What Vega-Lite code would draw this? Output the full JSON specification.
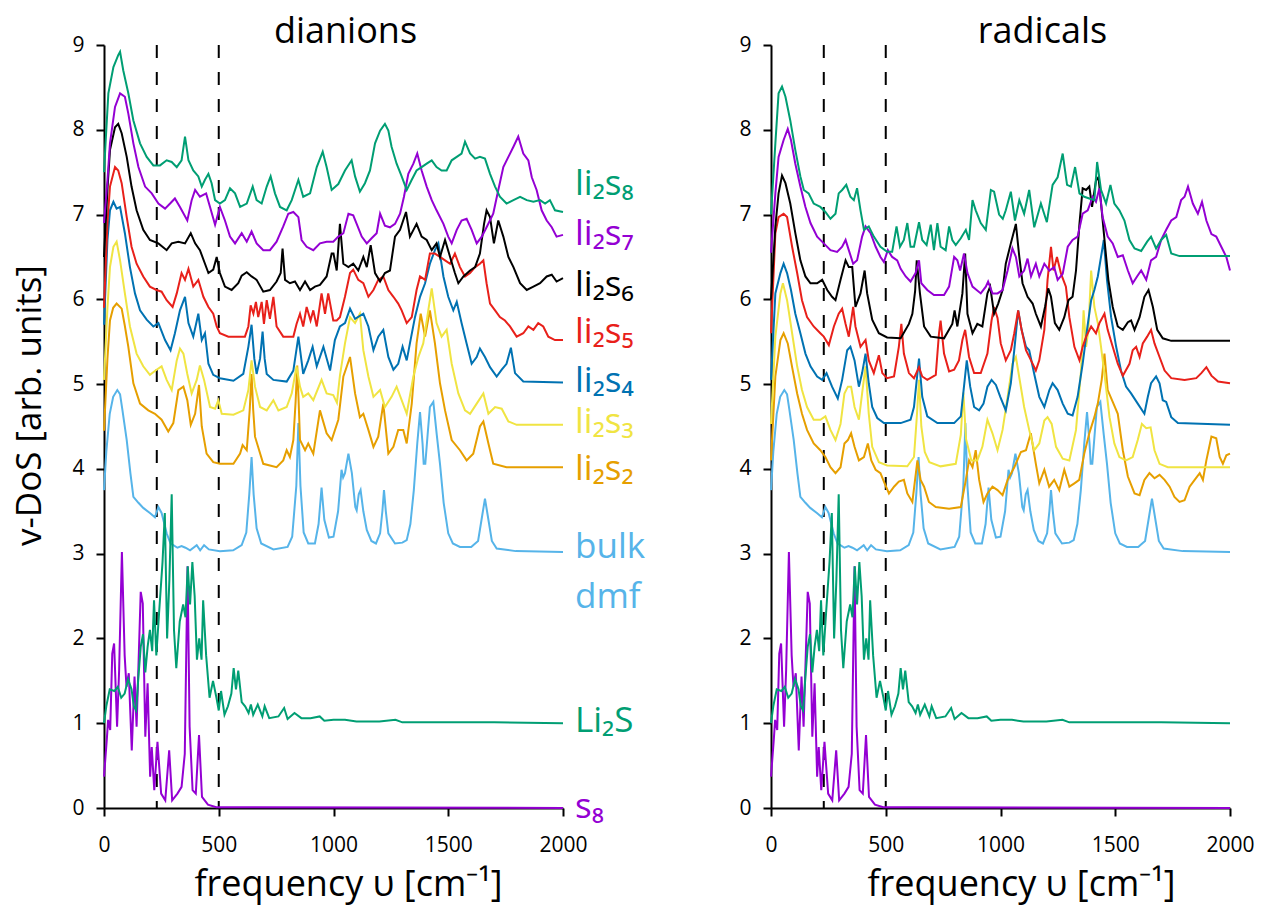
{
"$schema":"https://vega.github.io/schema/vega-lite/v6.json",
"padding":{"left":12,"top":14,"right":5,"bottom":5},
"config":{"font":"Open Sans","view":{"stroke":null}},
"bounds":"flush",
"spacing":208,
"datasets":{
"common":[
{"s":"bulk","x":0,"y":3.75},{"s":"bulk","x":10,"y":4.2},{"s":"bulk","x":25,"y":4.65},{"s":"bulk","x":40,"y":4.85},{"s":"bulk","x":58,"y":4.93},{"s":"bulk","x":70,"y":4.88},{"s":"bulk","x":80,"y":4.7},{"s":"bulk","x":99,"y":4.34},{"s":"bulk","x":115,"y":3.95},{"s":"bulk","x":128,"y":3.67},{"s":"bulk","x":150,"y":3.6},{"s":"bulk","x":171,"y":3.54},{"s":"bulk","x":200,"y":3.48},{"s":"bulk","x":222,"y":3.43},{"s":"bulk","x":237,"y":3.55},{"s":"bulk","x":251,"y":3.48},{"s":"bulk","x":273,"y":3.24},{"s":"bulk","x":290,"y":3.12},{"s":"bulk","x":302,"y":3.1},{"s":"bulk","x":320,"y":3.07},{"s":"bulk","x":338,"y":3.09},{"s":"bulk","x":355,"y":3.07},{"s":"bulk","x":375,"y":3.04},{"s":"bulk","x":404,"y":3.1},{"s":"bulk","x":419,"y":3.04},{"s":"bulk","x":436,"y":3.1},{"s":"bulk","x":457,"y":3.05},{"s":"bulk","x":505,"y":3.03},{"s":"bulk","x":563,"y":3.04},{"s":"bulk","x":600,"y":3.1},{"s":"bulk","x":620,"y":3.25},{"s":"bulk","x":633,"y":3.7},{"s":"bulk","x":643,"y":4.14},{"s":"bulk","x":652,"y":3.7},{"s":"bulk","x":665,"y":3.3},{"s":"bulk","x":685,"y":3.12},{"s":"bulk","x":738,"y":3.05},{"s":"bulk","x":800,"y":3.08},{"s":"bulk","x":820,"y":3.2},{"s":"bulk","x":838,"y":3.8},{"s":"bulk","x":847,"y":4.54},{"s":"bulk","x":856,"y":3.8},{"s":"bulk","x":870,"y":3.25},{"s":"bulk","x":890,"y":3.12},{"s":"bulk","x":919,"y":3.12},{"s":"bulk","x":935,"y":3.35},{"s":"bulk","x":948,"y":3.78},{"s":"bulk","x":960,"y":3.4},{"s":"bulk","x":980,"y":3.19},{"s":"bulk","x":1000,"y":3.2},{"s":"bulk","x":1020,"y":3.5},{"s":"bulk","x":1035,"y":3.99},{"s":"bulk","x":1042,"y":3.9},{"s":"bulk","x":1050,"y":3.95},{"s":"bulk","x":1065,"y":4.18},{"s":"bulk","x":1080,"y":3.95},{"s":"bulk","x":1095,"y":3.55},{"s":"bulk","x":1101,"y":3.51},{"s":"bulk","x":1110,"y":3.7},{"s":"bulk","x":1118,"y":3.75},{"s":"bulk","x":1130,"y":3.5},{"s":"bulk","x":1145,"y":3.28},{"s":"bulk","x":1165,"y":3.15},{"s":"bulk","x":1185,"y":3.12},{"s":"bulk","x":1203,"y":3.24},{"s":"bulk","x":1213,"y":3.5},{"s":"bulk","x":1220,"y":3.75},{"s":"bulk","x":1228,"y":3.5},{"s":"bulk","x":1239,"y":3.24},{"s":"bulk","x":1268,"y":3.12},{"s":"bulk","x":1300,"y":3.13},{"s":"bulk","x":1319,"y":3.16},{"s":"bulk","x":1335,"y":3.35},{"s":"bulk","x":1350,"y":3.75},{"s":"bulk","x":1365,"y":4.3},{"s":"bulk","x":1377,"y":4.67},{"s":"bulk","x":1388,"y":4.3},{"s":"bulk","x":1393,"y":4.06},{"s":"bulk","x":1400,"y":4.06},{"s":"bulk","x":1410,"y":4.4},{"s":"bulk","x":1420,"y":4.73},{"s":"bulk","x":1435,"y":4.79},{"s":"bulk","x":1450,"y":4.4},{"s":"bulk","x":1464,"y":4.06},{"s":"bulk","x":1480,"y":3.6},{"s":"bulk","x":1500,"y":3.24},{"s":"bulk","x":1520,"y":3.12},{"s":"bulk","x":1551,"y":3.08},{"s":"bulk","x":1600,"y":3.08},{"s":"bulk","x":1630,"y":3.15},{"s":"bulk","x":1648,"y":3.45},{"s":"bulk","x":1660,"y":3.65},{"s":"bulk","x":1672,"y":3.45},{"s":"bulk","x":1690,"y":3.15},{"s":"bulk","x":1711,"y":3.06},{"s":"bulk","x":1794,"y":3.03},{"s":"bulk","x":2000,"y":3.02},
{"s":"S8","x":0,"y":0.37},{"s":"S8","x":12,"y":0.8},{"s":"S8","x":18,"y":1.04},{"s":"S8","x":27,"y":0.92},{"s":"S8","x":36,"y":1.82},{"s":"S8","x":44,"y":1.94},{"s":"S8","x":57,"y":0.96},{"s":"S8","x":66,"y":1.63},{"s":"S8","x":78,"y":3.02},{"s":"S8","x":90,"y":1.8},{"s":"S8","x":98,"y":1.43},{"s":"S8","x":108,"y":1.59},{"s":"S8","x":121,"y":0.68},{"s":"S8","x":133,"y":1.55},{"s":"S8","x":142,"y":0.96},{"s":"S8","x":160,"y":2.55},{"s":"S8","x":169,"y":2.41},{"s":"S8","x":180,"y":0.84},{"s":"S8","x":190,"y":1.47},{"s":"S8","x":201,"y":0.37},{"s":"S8","x":208,"y":0.72},{"s":"S8","x":219,"y":0.21},{"s":"S8","x":233,"y":0.78},{"s":"S8","x":249,"y":0.17},{"s":"S8","x":267,"y":0.09},{"s":"S8","x":284,"y":0.68},{"s":"S8","x":297,"y":0.09},{"s":"S8","x":320,"y":0.17},{"s":"S8","x":338,"y":0.25},{"s":"S8","x":352,"y":0.64},{"s":"S8","x":364,"y":2.85},{"s":"S8","x":373,"y":0.96},{"s":"S8","x":386,"y":0.21},{"s":"S8","x":400,"y":0.17},{"s":"S8","x":414,"y":0.86},{"s":"S8","x":427,"y":0.13},{"s":"S8","x":453,"y":0.04},{"s":"S8","x":489,"y":0.01},{"s":"S8","x":600,"y":0.01},{"s":"S8","x":2000,"y":0},
{"s":"Li2S","x":0,"y":1.0},{"s":"Li2S","x":10,"y":1.2},{"s":"Li2S","x":25,"y":1.4},{"s":"Li2S","x":45,"y":1.38},{"s":"Li2S","x":60,"y":1.43},{"s":"Li2S","x":75,"y":1.3},{"s":"Li2S","x":90,"y":1.35},{"s":"Li2S","x":105,"y":1.52},{"s":"Li2S","x":120,"y":1.4},{"s":"Li2S","x":130,"y":1.2},{"s":"Li2S","x":140,"y":1.15},{"s":"Li2S","x":150,"y":1.55},{"s":"Li2S","x":160,"y":1.9},{"s":"Li2S","x":170,"y":2.05},{"s":"Li2S","x":180,"y":1.6},{"s":"Li2S","x":190,"y":1.9},{"s":"Li2S","x":200,"y":2.1},{"s":"Li2S","x":210,"y":1.85},{"s":"Li2S","x":218,"y":2.45},{"s":"Li2S","x":228,"y":1.8},{"s":"Li2S","x":240,"y":2.3},{"s":"Li2S","x":255,"y":2.9},{"s":"Li2S","x":265,"y":3.48},{"s":"Li2S","x":275,"y":2.0},{"s":"Li2S","x":285,"y":2.7},{"s":"Li2S","x":295,"y":3.7},{"s":"Li2S","x":305,"y":2.1},{"s":"Li2S","x":315,"y":1.65},{"s":"Li2S","x":330,"y":2.2},{"s":"Li2S","x":345,"y":2.4},{"s":"Li2S","x":355,"y":2.25},{"s":"Li2S","x":365,"y":2.85},{"s":"Li2S","x":375,"y":2.4},{"s":"Li2S","x":385,"y":2.9},{"s":"Li2S","x":395,"y":2.5},{"s":"Li2S","x":405,"y":1.75},{"s":"Li2S","x":415,"y":2.0},{"s":"Li2S","x":425,"y":1.75},{"s":"Li2S","x":432,"y":2.45},{"s":"Li2S","x":445,"y":1.8},{"s":"Li2S","x":460,"y":1.3},{"s":"Li2S","x":475,"y":1.5},{"s":"Li2S","x":490,"y":1.3},{"s":"Li2S","x":500,"y":1.15},{"s":"Li2S","x":510,"y":1.38},{"s":"Li2S","x":525,"y":1.1},{"s":"Li2S","x":540,"y":1.2},{"s":"Li2S","x":555,"y":1.35},{"s":"Li2S","x":565,"y":1.65},{"s":"Li2S","x":575,"y":1.4},{"s":"Li2S","x":585,"y":1.62},{"s":"Li2S","x":600,"y":1.25},{"s":"Li2S","x":615,"y":1.2},{"s":"Li2S","x":630,"y":1.12},{"s":"Li2S","x":640,"y":1.22},{"s":"Li2S","x":650,"y":1.1},{"s":"Li2S","x":670,"y":1.22},{"s":"Li2S","x":690,"y":1.08},{"s":"Li2S","x":700,"y":1.2},{"s":"Li2S","x":720,"y":1.06},{"s":"Li2S","x":760,"y":1.08},{"s":"Li2S","x":785,"y":1.18},{"s":"Li2S","x":800,"y":1.05},{"s":"Li2S","x":830,"y":1.12},{"s":"Li2S","x":860,"y":1.06},{"s":"Li2S","x":900,"y":1.06},{"s":"Li2S","x":940,"y":1.08},{"s":"Li2S","x":960,"y":1.03},{"s":"Li2S","x":1000,"y":1.04},{"s":"Li2S","x":1050,"y":1.04},{"s":"Li2S","x":1100,"y":1.02},{"s":"Li2S","x":1200,"y":1.02},{"s":"Li2S","x":1270,"y":1.04},{"s":"Li2S","x":1300,"y":1.01},{"s":"Li2S","x":1500,"y":1.01},{"s":"Li2S","x":1700,"y":1.01},{"s":"Li2S","x":2000,"y":1.0}
],
"dian":[
{"s":"li2s2","x":0,"y":4.45},{"s":"li2s2","x":15,"y":5.3},{"s":"li2s2","x":26,"y":5.75},{"s":"li2s2","x":40,"y":5.9},{"s":"li2s2","x":55,"y":5.95},{"s":"li2s2","x":77,"y":5.89},{"s":"li2s2","x":90,"y":5.7},{"s":"li2s2","x":106,"y":5.44},{"s":"li2s2","x":128,"y":5.01},{"s":"li2s2","x":157,"y":4.77},{"s":"li2s2","x":193,"y":4.69},{"s":"li2s2","x":222,"y":4.65},{"s":"li2s2","x":251,"y":4.58},{"s":"li2s2","x":280,"y":4.44},{"s":"li2s2","x":302,"y":4.54},{"s":"li2s2","x":324,"y":4.93},{"s":"li2s2","x":346,"y":4.97},{"s":"li2s2","x":363,"y":4.81},{"s":"li2s2","x":378,"y":4.52},{"s":"li2s2","x":397,"y":4.65},{"s":"li2s2","x":414,"y":4.99},{"s":"li2s2","x":426,"y":4.5},{"s":"li2s2","x":447,"y":4.18},{"s":"li2s2","x":476,"y":4.08},{"s":"li2s2","x":505,"y":4.06},{"s":"li2s2","x":564,"y":4.06},{"s":"li2s2","x":593,"y":4.18},{"s":"li2s2","x":604,"y":4.28},{"s":"li2s2","x":622,"y":4.22},{"s":"li2s2","x":635,"y":4.7},{"s":"li2s2","x":643,"y":5.12},{"s":"li2s2","x":650,"y":4.7},{"s":"li2s2","x":658,"y":4.38},{"s":"li2s2","x":694,"y":4.06},{"s":"li2s2","x":752,"y":4.02},{"s":"li2s2","x":781,"y":4.1},{"s":"li2s2","x":796,"y":4.22},{"s":"li2s2","x":810,"y":4.14},{"s":"li2s2","x":825,"y":4.34},{"s":"li2s2","x":835,"y":4.8},{"s":"li2s2","x":842,"y":5.22},{"s":"li2s2","x":848,"y":4.8},{"s":"li2s2","x":854,"y":4.34},{"s":"li2s2","x":876,"y":4.22},{"s":"li2s2","x":890,"y":4.3},{"s":"li2s2","x":912,"y":4.18},{"s":"li2s2","x":941,"y":4.69},{"s":"li2s2","x":970,"y":4.42},{"s":"li2s2","x":992,"y":4.34},{"s":"li2s2","x":1021,"y":4.58},{"s":"li2s2","x":1043,"y":5.09},{"s":"li2s2","x":1072,"y":5.32},{"s":"li2s2","x":1094,"y":4.89},{"s":"li2s2","x":1115,"y":4.61},{"s":"li2s2","x":1130,"y":4.65},{"s":"li2s2","x":1152,"y":4.46},{"s":"li2s2","x":1174,"y":4.26},{"s":"li2s2","x":1195,"y":4.38},{"s":"li2s2","x":1217,"y":4.77},{"s":"li2s2","x":1239,"y":4.18},{"s":"li2s2","x":1261,"y":4.26},{"s":"li2s2","x":1282,"y":4.46},{"s":"li2s2","x":1304,"y":4.46},{"s":"li2s2","x":1319,"y":4.3},{"s":"li2s2","x":1341,"y":4.77},{"s":"li2s2","x":1362,"y":5.48},{"s":"li2s2","x":1380,"y":5.83},{"s":"li2s2","x":1399,"y":5.56},{"s":"li2s2","x":1420,"y":5.87},{"s":"li2s2","x":1442,"y":5.48},{"s":"li2s2","x":1464,"y":5.01},{"s":"li2s2","x":1486,"y":4.69},{"s":"li2s2","x":1515,"y":4.34},{"s":"li2s2","x":1551,"y":4.22},{"s":"li2s2","x":1580,"y":4.1},{"s":"li2s2","x":1609,"y":4.18},{"s":"li2s2","x":1638,"y":4.5},{"s":"li2s2","x":1653,"y":4.56},{"s":"li2s2","x":1675,"y":4.3},{"s":"li2s2","x":1696,"y":4.06},{"s":"li2s2","x":1754,"y":4.02},{"s":"li2s2","x":2000,"y":4.02},
{"s":"li2s3","x":0,"y":5.05},{"s":"li2s3","x":15,"y":5.9},{"s":"li2s3","x":26,"y":6.38},{"s":"li2s3","x":41,"y":6.62},{"s":"li2s3","x":55,"y":6.68},{"s":"li2s3","x":70,"y":6.46},{"s":"li2s3","x":91,"y":6.07},{"s":"li2s3","x":113,"y":5.68},{"s":"li2s3","x":142,"y":5.36},{"s":"li2s3","x":171,"y":5.21},{"s":"li2s3","x":200,"y":5.11},{"s":"li2s3","x":229,"y":5.17},{"s":"li2s3","x":251,"y":5.21},{"s":"li2s3","x":273,"y":5.05},{"s":"li2s3","x":295,"y":4.93},{"s":"li2s3","x":317,"y":5.28},{"s":"li2s3","x":331,"y":5.42},{"s":"li2s3","x":346,"y":5.36},{"s":"li2s3","x":363,"y":5.12},{"s":"li2s3","x":382,"y":4.89},{"s":"li2s3","x":404,"y":5.05},{"s":"li2s3","x":418,"y":5.22},{"s":"li2s3","x":436,"y":5.05},{"s":"li2s3","x":462,"y":4.73},{"s":"li2s3","x":484,"y":4.71},{"s":"li2s3","x":498,"y":4.81},{"s":"li2s3","x":513,"y":4.65},{"s":"li2s3","x":564,"y":4.64},{"s":"li2s3","x":607,"y":4.69},{"s":"li2s3","x":629,"y":4.93},{"s":"li2s3","x":643,"y":5.28},{"s":"li2s3","x":658,"y":4.97},{"s":"li2s3","x":680,"y":4.73},{"s":"li2s3","x":709,"y":4.69},{"s":"li2s3","x":738,"y":4.81},{"s":"li2s3","x":760,"y":4.69},{"s":"li2s3","x":796,"y":4.73},{"s":"li2s3","x":818,"y":4.89},{"s":"li2s3","x":839,"y":5.21},{"s":"li2s3","x":854,"y":4.97},{"s":"li2s3","x":868,"y":4.85},{"s":"li2s3","x":890,"y":4.89},{"s":"li2s3","x":912,"y":4.81},{"s":"li2s3","x":948,"y":5.05},{"s":"li2s3","x":970,"y":4.89},{"s":"li2s3","x":999,"y":4.87},{"s":"li2s3","x":1015,"y":4.78},{"s":"li2s3","x":1028,"y":5.1},{"s":"li2s3","x":1050,"y":5.48},{"s":"li2s3","x":1072,"y":5.79},{"s":"li2s3","x":1094,"y":5.72},{"s":"li2s3","x":1115,"y":5.83},{"s":"li2s3","x":1130,"y":5.4},{"s":"li2s3","x":1152,"y":5.09},{"s":"li2s3","x":1174,"y":4.85},{"s":"li2s3","x":1203,"y":4.93},{"s":"li2s3","x":1224,"y":4.73},{"s":"li2s3","x":1253,"y":4.85},{"s":"li2s3","x":1275,"y":4.97},{"s":"li2s3","x":1297,"y":4.81},{"s":"li2s3","x":1319,"y":4.65},{"s":"li2s3","x":1348,"y":5.09},{"s":"li2s3","x":1370,"y":5.32},{"s":"li2s3","x":1391,"y":5.48},{"s":"li2s3","x":1413,"y":5.87},{"s":"li2s3","x":1428,"y":6.13},{"s":"li2s3","x":1449,"y":5.72},{"s":"li2s3","x":1471,"y":5.56},{"s":"li2s3","x":1493,"y":5.64},{"s":"li2s3","x":1515,"y":5.24},{"s":"li2s3","x":1544,"y":4.89},{"s":"li2s3","x":1573,"y":4.69},{"s":"li2s3","x":1595,"y":4.65},{"s":"li2s3","x":1624,"y":4.77},{"s":"li2s3","x":1653,"y":4.89},{"s":"li2s3","x":1675,"y":4.65},{"s":"li2s3","x":1704,"y":4.73},{"s":"li2s3","x":1733,"y":4.71},{"s":"li2s3","x":1762,"y":4.56},{"s":"li2s3","x":1798,"y":4.52},{"s":"li2s3","x":2000,"y":4.52},
{"s":"li2s4","x":0,"y":5.7},{"s":"li2s4","x":15,"y":6.7},{"s":"li2s4","x":26,"y":7.05},{"s":"li2s4","x":41,"y":7.15},{"s":"li2s4","x":55,"y":7.07},{"s":"li2s4","x":70,"y":7.09},{"s":"li2s4","x":91,"y":6.78},{"s":"li2s4","x":113,"y":6.38},{"s":"li2s4","x":135,"y":6.07},{"s":"li2s4","x":157,"y":5.87},{"s":"li2s4","x":186,"y":5.76},{"s":"li2s4","x":215,"y":5.68},{"s":"li2s4","x":237,"y":5.72},{"s":"li2s4","x":266,"y":5.52},{"s":"li2s4","x":290,"y":5.4},{"s":"li2s4","x":309,"y":5.6},{"s":"li2s4","x":331,"y":5.87},{"s":"li2s4","x":353,"y":6.03},{"s":"li2s4","x":368,"y":5.72},{"s":"li2s4","x":389,"y":5.56},{"s":"li2s4","x":411,"y":5.83},{"s":"li2s4","x":426,"y":5.52},{"s":"li2s4","x":440,"y":5.6},{"s":"li2s4","x":455,"y":5.24},{"s":"li2s4","x":476,"y":5.11},{"s":"li2s4","x":505,"y":5.07},{"s":"li2s4","x":564,"y":5.04},{"s":"li2s4","x":607,"y":5.12},{"s":"li2s4","x":629,"y":5.44},{"s":"li2s4","x":643,"y":5.7},{"s":"li2s4","x":655,"y":5.3},{"s":"li2s4","x":665,"y":5.12},{"s":"li2s4","x":680,"y":5.3},{"s":"li2s4","x":691,"y":5.62},{"s":"li2s4","x":700,"y":5.3},{"s":"li2s4","x":709,"y":5.12},{"s":"li2s4","x":738,"y":5.05},{"s":"li2s4","x":796,"y":5.03},{"s":"li2s4","x":825,"y":5.16},{"s":"li2s4","x":847,"y":5.56},{"s":"li2s4","x":868,"y":5.12},{"s":"li2s4","x":890,"y":5.28},{"s":"li2s4","x":909,"y":5.44},{"s":"li2s4","x":927,"y":5.21},{"s":"li2s4","x":956,"y":5.44},{"s":"li2s4","x":985,"y":5.16},{"s":"li2s4","x":1006,"y":5.52},{"s":"li2s4","x":1028,"y":5.68},{"s":"li2s4","x":1050,"y":5.72},{"s":"li2s4","x":1072,"y":5.89},{"s":"li2s4","x":1094,"y":5.77},{"s":"li2s4","x":1130,"y":5.83},{"s":"li2s4","x":1152,"y":5.68},{"s":"li2s4","x":1174,"y":5.4},{"s":"li2s4","x":1195,"y":5.56},{"s":"li2s4","x":1217,"y":5.64},{"s":"li2s4","x":1239,"y":5.32},{"s":"li2s4","x":1261,"y":5.17},{"s":"li2s4","x":1282,"y":5.24},{"s":"li2s4","x":1301,"y":5.44},{"s":"li2s4","x":1319,"y":5.28},{"s":"li2s4","x":1333,"y":5.48},{"s":"li2s4","x":1355,"y":5.79},{"s":"li2s4","x":1377,"y":6.03},{"s":"li2s4","x":1399,"y":6.19},{"s":"li2s4","x":1420,"y":6.42},{"s":"li2s4","x":1442,"y":6.58},{"s":"li2s4","x":1457,"y":6.66},{"s":"li2s4","x":1479,"y":6.27},{"s":"li2s4","x":1500,"y":6.03},{"s":"li2s4","x":1522,"y":5.87},{"s":"li2s4","x":1537,"y":5.97},{"s":"li2s4","x":1558,"y":5.72},{"s":"li2s4","x":1580,"y":5.48},{"s":"li2s4","x":1602,"y":5.24},{"s":"li2s4","x":1624,"y":5.32},{"s":"li2s4","x":1638,"y":5.42},{"s":"li2s4","x":1660,"y":5.32},{"s":"li2s4","x":1682,"y":5.2},{"s":"li2s4","x":1711,"y":5.09},{"s":"li2s4","x":1733,"y":5.17},{"s":"li2s4","x":1754,"y":5.24},{"s":"li2s4","x":1773,"y":5.43},{"s":"li2s4","x":1791,"y":5.13},{"s":"li2s4","x":1827,"y":5.03},{"s":"li2s4","x":2000,"y":5.02},
{"s":"li2s5","x":0,"y":5.9},{"s":"li2s5","x":15,"y":6.9},{"s":"li2s5","x":26,"y":7.33},{"s":"li2s5","x":48,"y":7.56},{"s":"li2s5","x":62,"y":7.52},{"s":"li2s5","x":77,"y":7.37},{"s":"li2s5","x":99,"y":6.97},{"s":"li2s5","x":120,"y":6.62},{"s":"li2s5","x":142,"y":6.42},{"s":"li2s5","x":171,"y":6.27},{"s":"li2s5","x":200,"y":6.15},{"s":"li2s5","x":229,"y":6.11},{"s":"li2s5","x":251,"y":6.09},{"s":"li2s5","x":273,"y":5.99},{"s":"li2s5","x":299,"y":5.91},{"s":"li2s5","x":317,"y":6.07},{"s":"li2s5","x":338,"y":6.31},{"s":"li2s5","x":353,"y":6.23},{"s":"li2s5","x":368,"y":6.36},{"s":"li2s5","x":389,"y":6.15},{"s":"li2s5","x":411,"y":6.23},{"s":"li2s5","x":433,"y":6.03},{"s":"li2s5","x":455,"y":5.91},{"s":"li2s5","x":476,"y":5.83},{"s":"li2s5","x":491,"y":5.68},{"s":"li2s5","x":505,"y":5.6},{"s":"li2s5","x":542,"y":5.56},{"s":"li2s5","x":614,"y":5.56},{"s":"li2s5","x":629,"y":5.68},{"s":"li2s5","x":639,"y":5.93},{"s":"li2s5","x":651,"y":5.83},{"s":"li2s5","x":662,"y":5.97},{"s":"li2s5","x":672,"y":5.79},{"s":"li2s5","x":687,"y":5.97},{"s":"li2s5","x":697,"y":5.71},{"s":"li2s5","x":709,"y":5.99},{"s":"li2s5","x":723,"y":5.77},{"s":"li2s5","x":738,"y":6.03},{"s":"li2s5","x":752,"y":5.68},{"s":"li2s5","x":781,"y":5.56},{"s":"li2s5","x":825,"y":5.56},{"s":"li2s5","x":839,"y":5.71},{"s":"li2s5","x":854,"y":5.83},{"s":"li2s5","x":868,"y":5.68},{"s":"li2s5","x":883,"y":5.91},{"s":"li2s5","x":900,"y":5.75},{"s":"li2s5","x":912,"y":5.87},{"s":"li2s5","x":927,"y":5.68},{"s":"li2s5","x":948,"y":6.07},{"s":"li2s5","x":963,"y":5.83},{"s":"li2s5","x":977,"y":6.07},{"s":"li2s5","x":999,"y":5.75},{"s":"li2s5","x":1014,"y":5.75},{"s":"li2s5","x":1028,"y":5.79},{"s":"li2s5","x":1050,"y":6.03},{"s":"li2s5","x":1072,"y":6.31},{"s":"li2s5","x":1086,"y":6.35},{"s":"li2s5","x":1108,"y":6.23},{"s":"li2s5","x":1130,"y":6.19},{"s":"li2s5","x":1152,"y":6.03},{"s":"li2s5","x":1174,"y":6.11},{"s":"li2s5","x":1195,"y":6.23},{"s":"li2s5","x":1217,"y":6.27},{"s":"li2s5","x":1239,"y":6.11},{"s":"li2s5","x":1261,"y":6.03},{"s":"li2s5","x":1282,"y":5.95},{"s":"li2s5","x":1297,"y":5.87},{"s":"li2s5","x":1319,"y":5.72},{"s":"li2s5","x":1341,"y":5.79},{"s":"li2s5","x":1362,"y":6.11},{"s":"li2s5","x":1377,"y":6.27},{"s":"li2s5","x":1399,"y":6.23},{"s":"li2s5","x":1420,"y":6.54},{"s":"li2s5","x":1442,"y":6.54},{"s":"li2s5","x":1464,"y":6.5},{"s":"li2s5","x":1486,"y":6.46},{"s":"li2s5","x":1508,"y":6.42},{"s":"li2s5","x":1529,"y":6.54},{"s":"li2s5","x":1551,"y":6.38},{"s":"li2s5","x":1573,"y":6.27},{"s":"li2s5","x":1595,"y":6.31},{"s":"li2s5","x":1617,"y":6.38},{"s":"li2s5","x":1638,"y":6.42},{"s":"li2s5","x":1653,"y":6.46},{"s":"li2s5","x":1667,"y":6.19},{"s":"li2s5","x":1682,"y":5.95},{"s":"li2s5","x":1704,"y":5.87},{"s":"li2s5","x":1725,"y":5.79},{"s":"li2s5","x":1747,"y":5.75},{"s":"li2s5","x":1769,"y":5.68},{"s":"li2s5","x":1798,"y":5.56},{"s":"li2s5","x":1827,"y":5.6},{"s":"li2s5","x":1849,"y":5.68},{"s":"li2s5","x":1871,"y":5.64},{"s":"li2s5","x":1892,"y":5.72},{"s":"li2s5","x":1914,"y":5.68},{"s":"li2s5","x":1936,"y":5.56},{"s":"li2s5","x":1965,"y":5.52},{"s":"li2s5","x":2000,"y":5.52},
{"s":"li2s6","x":0,"y":6.5},{"s":"li2s6","x":15,"y":7.3},{"s":"li2s6","x":26,"y":7.76},{"s":"li2s6","x":48,"y":8.03},{"s":"li2s6","x":62,"y":8.07},{"s":"li2s6","x":77,"y":7.96},{"s":"li2s6","x":99,"y":7.68},{"s":"li2s6","x":120,"y":7.33},{"s":"li2s6","x":142,"y":7.05},{"s":"li2s6","x":171,"y":6.82},{"s":"li2s6","x":200,"y":6.7},{"s":"li2s6","x":237,"y":6.66},{"s":"li2s6","x":273,"y":6.58},{"s":"li2s6","x":295,"y":6.66},{"s":"li2s6","x":324,"y":6.68},{"s":"li2s6","x":353,"y":6.66},{"s":"li2s6","x":378,"y":6.78},{"s":"li2s6","x":397,"y":6.66},{"s":"li2s6","x":418,"y":6.58},{"s":"li2s6","x":440,"y":6.42},{"s":"li2s6","x":455,"y":6.31},{"s":"li2s6","x":476,"y":6.35},{"s":"li2s6","x":491,"y":6.5},{"s":"li2s6","x":505,"y":6.31},{"s":"li2s6","x":527,"y":6.15},{"s":"li2s6","x":556,"y":6.11},{"s":"li2s6","x":585,"y":6.19},{"s":"li2s6","x":600,"y":6.28},{"s":"li2s6","x":622,"y":6.32},{"s":"li2s6","x":643,"y":6.27},{"s":"li2s6","x":665,"y":6.23},{"s":"li2s6","x":694,"y":6.09},{"s":"li2s6","x":723,"y":6.11},{"s":"li2s6","x":752,"y":6.21},{"s":"li2s6","x":770,"y":6.31},{"s":"li2s6","x":778,"y":6.6},{"s":"li2s6","x":789,"y":6.23},{"s":"li2s6","x":810,"y":6.19},{"s":"li2s6","x":832,"y":6.21},{"s":"li2s6","x":854,"y":6.11},{"s":"li2s6","x":876,"y":6.21},{"s":"li2s6","x":898,"y":6.11},{"s":"li2s6","x":919,"y":6.15},{"s":"li2s6","x":941,"y":6.17},{"s":"li2s6","x":970,"y":6.27},{"s":"li2s6","x":992,"y":6.54},{"s":"li2s6","x":1000,"y":6.54},{"s":"li2s6","x":1014,"y":6.34},{"s":"li2s6","x":1028,"y":6.89},{"s":"li2s6","x":1043,"y":6.42},{"s":"li2s6","x":1065,"y":6.38},{"s":"li2s6","x":1086,"y":6.42},{"s":"li2s6","x":1108,"y":6.34},{"s":"li2s6","x":1130,"y":6.5},{"s":"li2s6","x":1145,"y":6.38},{"s":"li2s6","x":1162,"y":6.64},{"s":"li2s6","x":1181,"y":6.31},{"s":"li2s6","x":1203,"y":6.21},{"s":"li2s6","x":1224,"y":6.31},{"s":"li2s6","x":1246,"y":6.34},{"s":"li2s6","x":1268,"y":6.74},{"s":"li2s6","x":1290,"y":6.82},{"s":"li2s6","x":1316,"y":7.03},{"s":"li2s6","x":1333,"y":6.74},{"s":"li2s6","x":1362,"y":6.89},{"s":"li2s6","x":1384,"y":6.74},{"s":"li2s6","x":1406,"y":6.7},{"s":"li2s6","x":1428,"y":6.58},{"s":"li2s6","x":1449,"y":6.66},{"s":"li2s6","x":1464,"y":6.5},{"s":"li2s6","x":1486,"y":6.7},{"s":"li2s6","x":1508,"y":6.5},{"s":"li2s6","x":1529,"y":6.31},{"s":"li2s6","x":1544,"y":6.19},{"s":"li2s6","x":1566,"y":6.27},{"s":"li2s6","x":1595,"y":6.34},{"s":"li2s6","x":1617,"y":6.38},{"s":"li2s6","x":1638,"y":6.54},{"s":"li2s6","x":1656,"y":6.89},{"s":"li2s6","x":1667,"y":7.05},{"s":"li2s6","x":1682,"y":6.97},{"s":"li2s6","x":1699,"y":6.66},{"s":"li2s6","x":1718,"y":6.93},{"s":"li2s6","x":1740,"y":6.74},{"s":"li2s6","x":1762,"y":6.5},{"s":"li2s6","x":1784,"y":6.38},{"s":"li2s6","x":1813,"y":6.19},{"s":"li2s6","x":1842,"y":6.11},{"s":"li2s6","x":1871,"y":6.15},{"s":"li2s6","x":1900,"y":6.19},{"s":"li2s6","x":1929,"y":6.27},{"s":"li2s6","x":1951,"y":6.29},{"s":"li2s6","x":1972,"y":6.21},{"s":"li2s6","x":2000,"y":6.25},
{"s":"li2s7","x":0,"y":6.9},{"s":"li2s7","x":15,"y":7.4},{"s":"li2s7","x":26,"y":7.84},{"s":"li2s7","x":48,"y":8.27},{"s":"li2s7","x":70,"y":8.43},{"s":"li2s7","x":91,"y":8.39},{"s":"li2s7","x":106,"y":8.19},{"s":"li2s7","x":128,"y":7.84},{"s":"li2s7","x":150,"y":7.56},{"s":"li2s7","x":179,"y":7.33},{"s":"li2s7","x":208,"y":7.25},{"s":"li2s7","x":237,"y":7.13},{"s":"li2s7","x":266,"y":7.07},{"s":"li2s7","x":288,"y":7.13},{"s":"li2s7","x":309,"y":7.19},{"s":"li2s7","x":331,"y":7.09},{"s":"li2s7","x":363,"y":6.93},{"s":"li2s7","x":382,"y":7.17},{"s":"li2s7","x":397,"y":7.29},{"s":"li2s7","x":418,"y":7.21},{"s":"li2s7","x":445,"y":7.25},{"s":"li2s7","x":462,"y":7.09},{"s":"li2s7","x":484,"y":6.88},{"s":"li2s7","x":505,"y":7.09},{"s":"li2s7","x":527,"y":6.93},{"s":"li2s7","x":549,"y":6.74},{"s":"li2s7","x":571,"y":6.66},{"s":"li2s7","x":600,"y":6.78},{"s":"li2s7","x":622,"y":6.68},{"s":"li2s7","x":643,"y":6.8},{"s":"li2s7","x":665,"y":6.66},{"s":"li2s7","x":694,"y":6.58},{"s":"li2s7","x":723,"y":6.58},{"s":"li2s7","x":752,"y":6.68},{"s":"li2s7","x":781,"y":6.86},{"s":"li2s7","x":803,"y":7.01},{"s":"li2s7","x":825,"y":7.03},{"s":"li2s7","x":847,"y":6.97},{"s":"li2s7","x":861,"y":6.7},{"s":"li2s7","x":883,"y":6.62},{"s":"li2s7","x":912,"y":6.58},{"s":"li2s7","x":941,"y":6.66},{"s":"li2s7","x":970,"y":6.68},{"s":"li2s7","x":999,"y":6.68},{"s":"li2s7","x":1021,"y":6.74},{"s":"li2s7","x":1043,"y":6.78},{"s":"li2s7","x":1065,"y":7.01},{"s":"li2s7","x":1086,"y":6.99},{"s":"li2s7","x":1101,"y":6.89},{"s":"li2s7","x":1123,"y":6.74},{"s":"li2s7","x":1145,"y":6.66},{"s":"li2s7","x":1166,"y":6.72},{"s":"li2s7","x":1188,"y":6.78},{"s":"li2s7","x":1203,"y":7.01},{"s":"li2s7","x":1224,"y":6.87},{"s":"li2s7","x":1246,"y":6.85},{"s":"li2s7","x":1268,"y":6.89},{"s":"li2s7","x":1290,"y":7.01},{"s":"li2s7","x":1307,"y":7.21},{"s":"li2s7","x":1326,"y":7.48},{"s":"li2s7","x":1348,"y":7.6},{"s":"li2s7","x":1365,"y":7.72},{"s":"li2s7","x":1384,"y":7.52},{"s":"li2s7","x":1406,"y":7.33},{"s":"li2s7","x":1428,"y":7.17},{"s":"li2s7","x":1449,"y":7.05},{"s":"li2s7","x":1479,"y":6.89},{"s":"li2s7","x":1500,"y":6.74},{"s":"li2s7","x":1515,"y":6.66},{"s":"li2s7","x":1537,"y":6.82},{"s":"li2s7","x":1558,"y":6.93},{"s":"li2s7","x":1580,"y":6.95},{"s":"li2s7","x":1602,"y":6.82},{"s":"li2s7","x":1624,"y":6.66},{"s":"li2s7","x":1646,"y":6.74},{"s":"li2s7","x":1667,"y":6.85},{"s":"li2s7","x":1696,"y":7.01},{"s":"li2s7","x":1718,"y":7.29},{"s":"li2s7","x":1740,"y":7.56},{"s":"li2s7","x":1762,"y":7.68},{"s":"li2s7","x":1784,"y":7.8},{"s":"li2s7","x":1805,"y":7.92},{"s":"li2s7","x":1827,"y":7.72},{"s":"li2s7","x":1849,"y":7.64},{"s":"li2s7","x":1864,"y":7.44},{"s":"li2s7","x":1885,"y":7.29},{"s":"li2s7","x":1907,"y":7.05},{"s":"li2s7","x":1929,"y":6.93},{"s":"li2s7","x":1951,"y":6.85},{"s":"li2s7","x":1972,"y":6.74},{"s":"li2s7","x":2000,"y":6.76},
{"s":"li2s8","x":0,"y":7.5},{"s":"li2s8","x":8,"y":7.9},{"s":"li2s8","x":19,"y":8.43},{"s":"li2s8","x":41,"y":8.74},{"s":"li2s8","x":62,"y":8.88},{"s":"li2s8","x":70,"y":8.92},{"s":"li2s8","x":84,"y":8.7},{"s":"li2s8","x":106,"y":8.43},{"s":"li2s8","x":128,"y":8.11},{"s":"li2s8","x":157,"y":7.84},{"s":"li2s8","x":186,"y":7.68},{"s":"li2s8","x":215,"y":7.58},{"s":"li2s8","x":244,"y":7.58},{"s":"li2s8","x":273,"y":7.64},{"s":"li2s8","x":295,"y":7.62},{"s":"li2s8","x":317,"y":7.56},{"s":"li2s8","x":338,"y":7.64},{"s":"li2s8","x":353,"y":7.92},{"s":"li2s8","x":368,"y":7.64},{"s":"li2s8","x":389,"y":7.52},{"s":"li2s8","x":411,"y":7.45},{"s":"li2s8","x":426,"y":7.33},{"s":"li2s8","x":440,"y":7.41},{"s":"li2s8","x":455,"y":7.48},{"s":"li2s8","x":469,"y":7.37},{"s":"li2s8","x":484,"y":7.17},{"s":"li2s8","x":505,"y":7.13},{"s":"li2s8","x":527,"y":7.17},{"s":"li2s8","x":549,"y":7.31},{"s":"li2s8","x":571,"y":7.25},{"s":"li2s8","x":593,"y":7.09},{"s":"li2s8","x":622,"y":7.13},{"s":"li2s8","x":648,"y":7.33},{"s":"li2s8","x":665,"y":7.17},{"s":"li2s8","x":687,"y":7.13},{"s":"li2s8","x":709,"y":7.33},{"s":"li2s8","x":726,"y":7.45},{"s":"li2s8","x":745,"y":7.25},{"s":"li2s8","x":767,"y":7.09},{"s":"li2s8","x":796,"y":7.05},{"s":"li2s8","x":818,"y":7.17},{"s":"li2s8","x":847,"y":7.41},{"s":"li2s8","x":868,"y":7.21},{"s":"li2s8","x":898,"y":7.25},{"s":"li2s8","x":927,"y":7.56},{"s":"li2s8","x":953,"y":7.74},{"s":"li2s8","x":970,"y":7.56},{"s":"li2s8","x":992,"y":7.29},{"s":"li2s8","x":1021,"y":7.36},{"s":"li2s8","x":1050,"y":7.52},{"s":"li2s8","x":1079,"y":7.64},{"s":"li2s8","x":1094,"y":7.45},{"s":"li2s8","x":1115,"y":7.27},{"s":"li2s8","x":1137,"y":7.37},{"s":"li2s8","x":1159,"y":7.52},{"s":"li2s8","x":1181,"y":7.84},{"s":"li2s8","x":1203,"y":7.99},{"s":"li2s8","x":1224,"y":8.07},{"s":"li2s8","x":1239,"y":7.99},{"s":"li2s8","x":1253,"y":7.8},{"s":"li2s8","x":1275,"y":7.6},{"s":"li2s8","x":1297,"y":7.45},{"s":"li2s8","x":1319,"y":7.29},{"s":"li2s8","x":1341,"y":7.41},{"s":"li2s8","x":1362,"y":7.52},{"s":"li2s8","x":1384,"y":7.56},{"s":"li2s8","x":1406,"y":7.6},{"s":"li2s8","x":1428,"y":7.64},{"s":"li2s8","x":1449,"y":7.56},{"s":"li2s8","x":1471,"y":7.52},{"s":"li2s8","x":1493,"y":7.52},{"s":"li2s8","x":1515,"y":7.64},{"s":"li2s8","x":1537,"y":7.68},{"s":"li2s8","x":1558,"y":7.72},{"s":"li2s8","x":1573,"y":7.86},{"s":"li2s8","x":1595,"y":7.72},{"s":"li2s8","x":1617,"y":7.66},{"s":"li2s8","x":1638,"y":7.68},{"s":"li2s8","x":1660,"y":7.66},{"s":"li2s8","x":1682,"y":7.48},{"s":"li2s8","x":1704,"y":7.33},{"s":"li2s8","x":1725,"y":7.21},{"s":"li2s8","x":1754,"y":7.13},{"s":"li2s8","x":1784,"y":7.17},{"s":"li2s8","x":1813,"y":7.21},{"s":"li2s8","x":1842,"y":7.17},{"s":"li2s8","x":1871,"y":7.15},{"s":"li2s8","x":1900,"y":7.17},{"s":"li2s8","x":1922,"y":7.13},{"s":"li2s8","x":1943,"y":7.17},{"s":"li2s8","x":1965,"y":7.05},{"s":"li2s8","x":2000,"y":7.03}
],
"rad":[
{"s":"li2s2","x":0,"y":4.1},{"s":"li2s2","x":19,"y":5.09},{"s":"li2s2","x":41,"y":5.52},{"s":"li2s2","x":55,"y":5.6},{"s":"li2s2","x":73,"y":5.48},{"s":"li2s2","x":92,"y":5.2},{"s":"li2s2","x":114,"y":4.89},{"s":"li2s2","x":135,"y":4.65},{"s":"li2s2","x":157,"y":4.46},{"s":"li2s2","x":186,"y":4.3},{"s":"li2s2","x":215,"y":4.22},{"s":"li2s2","x":237,"y":4.14},{"s":"li2s2","x":259,"y":4.02},{"s":"li2s2","x":281,"y":3.95},{"s":"li2s2","x":303,"y":4.02},{"s":"li2s2","x":320,"y":4.3},{"s":"li2s2","x":335,"y":4.34},{"s":"li2s2","x":349,"y":4.42},{"s":"li2s2","x":364,"y":4.26},{"s":"li2s2","x":383,"y":4.1},{"s":"li2s2","x":405,"y":4.14},{"s":"li2s2","x":422,"y":4.3},{"s":"li2s2","x":437,"y":4.1},{"s":"li2s2","x":456,"y":3.99},{"s":"li2s2","x":477,"y":3.95},{"s":"li2s2","x":492,"y":3.85},{"s":"li2s2","x":514,"y":3.71},{"s":"li2s2","x":536,"y":3.79},{"s":"li2s2","x":557,"y":3.85},{"s":"li2s2","x":579,"y":3.87},{"s":"li2s2","x":594,"y":3.71},{"s":"li2s2","x":616,"y":3.61},{"s":"li2s2","x":638,"y":4.1},{"s":"li2s2","x":652,"y":3.87},{"s":"li2s2","x":667,"y":3.79},{"s":"li2s2","x":688,"y":3.61},{"s":"li2s2","x":718,"y":3.55},{"s":"li2s2","x":776,"y":3.53},{"s":"li2s2","x":827,"y":3.55},{"s":"li2s2","x":849,"y":3.87},{"s":"li2s2","x":863,"y":4.1},{"s":"li2s2","x":878,"y":4.02},{"s":"li2s2","x":892,"y":4.22},{"s":"li2s2","x":907,"y":3.87},{"s":"li2s2","x":926,"y":3.61},{"s":"li2s2","x":943,"y":3.71},{"s":"li2s2","x":965,"y":3.79},{"s":"li2s2","x":987,"y":3.75},{"s":"li2s2","x":1009,"y":3.69},{"s":"li2s2","x":1031,"y":3.87},{"s":"li2s2","x":1060,"y":4.02},{"s":"li2s2","x":1089,"y":4.2},{"s":"li2s2","x":1111,"y":4.22},{"s":"li2s2","x":1132,"y":4.42},{"s":"li2s2","x":1154,"y":4.06},{"s":"li2s2","x":1169,"y":3.83},{"s":"li2s2","x":1191,"y":3.99},{"s":"li2s2","x":1212,"y":3.79},{"s":"li2s2","x":1234,"y":3.87},{"s":"li2s2","x":1256,"y":3.75},{"s":"li2s2","x":1278,"y":3.99},{"s":"li2s2","x":1300,"y":3.79},{"s":"li2s2","x":1322,"y":3.83},{"s":"li2s2","x":1343,"y":3.87},{"s":"li2s2","x":1365,"y":4.18},{"s":"li2s2","x":1387,"y":4.42},{"s":"li2s2","x":1409,"y":4.61},{"s":"li2s2","x":1424,"y":4.77},{"s":"li2s2","x":1441,"y":5.05},{"s":"li2s2","x":1453,"y":5.36},{"s":"li2s2","x":1467,"y":4.93},{"s":"li2s2","x":1489,"y":4.79},{"s":"li2s2","x":1511,"y":4.65},{"s":"li2s2","x":1533,"y":4.22},{"s":"li2s2","x":1555,"y":3.91},{"s":"li2s2","x":1584,"y":3.71},{"s":"li2s2","x":1606,"y":3.69},{"s":"li2s2","x":1627,"y":3.87},{"s":"li2s2","x":1649,"y":3.95},{"s":"li2s2","x":1671,"y":3.89},{"s":"li2s2","x":1693,"y":3.93},{"s":"li2s2","x":1715,"y":3.87},{"s":"li2s2","x":1737,"y":3.79},{"s":"li2s2","x":1758,"y":3.67},{"s":"li2s2","x":1780,"y":3.61},{"s":"li2s2","x":1802,"y":3.63},{"s":"li2s2","x":1824,"y":3.79},{"s":"li2s2","x":1846,"y":3.87},{"s":"li2s2","x":1868,"y":3.95},{"s":"li2s2","x":1882,"y":3.87},{"s":"li2s2","x":1897,"y":4.1},{"s":"li2s2","x":1919,"y":4.38},{"s":"li2s2","x":1940,"y":4.36},{"s":"li2s2","x":1955,"y":4.14},{"s":"li2s2","x":1969,"y":4.06},{"s":"li2s2","x":1984,"y":4.16},{"s":"li2s2","x":2000,"y":4.18},
{"s":"li2s3","x":0,"y":4.53},{"s":"li2s3","x":19,"y":5.56},{"s":"li2s3","x":41,"y":6.07},{"s":"li2s3","x":52,"y":6.19},{"s":"li2s3","x":70,"y":5.99},{"s":"li2s3","x":92,"y":5.6},{"s":"li2s3","x":114,"y":5.21},{"s":"li2s3","x":135,"y":4.93},{"s":"li2s3","x":157,"y":4.73},{"s":"li2s3","x":186,"y":4.58},{"s":"li2s3","x":215,"y":4.58},{"s":"li2s3","x":237,"y":4.62},{"s":"li2s3","x":259,"y":4.46},{"s":"li2s3","x":281,"y":4.34},{"s":"li2s3","x":303,"y":4.53},{"s":"li2s3","x":320,"y":4.89},{"s":"li2s3","x":335,"y":4.97},{"s":"li2s3","x":349,"y":4.97},{"s":"li2s3","x":364,"y":4.73},{"s":"li2s3","x":383,"y":4.58},{"s":"li2s3","x":397,"y":4.89},{"s":"li2s3","x":412,"y":5.21},{"s":"li2s3","x":426,"y":4.65},{"s":"li2s3","x":441,"y":4.26},{"s":"li2s3","x":470,"y":4.08},{"s":"li2s3","x":506,"y":4.04},{"s":"li2s3","x":594,"y":4.03},{"s":"li2s3","x":623,"y":4.14},{"s":"li2s3","x":635,"y":4.6},{"s":"li2s3","x":645,"y":5.05},{"s":"li2s3","x":655,"y":4.5},{"s":"li2s3","x":670,"y":4.2},{"s":"li2s3","x":690,"y":4.08},{"s":"li2s3","x":739,"y":4.03},{"s":"li2s3","x":805,"y":4.06},{"s":"li2s3","x":827,"y":4.4},{"s":"li2s3","x":838,"y":4.9},{"s":"li2s3","x":850,"y":4.35},{"s":"li2s3","x":873,"y":4.1},{"s":"li2s3","x":899,"y":4.1},{"s":"li2s3","x":921,"y":4.26},{"s":"li2s3","x":943,"y":4.58},{"s":"li2s3","x":965,"y":4.42},{"s":"li2s3","x":987,"y":4.22},{"s":"li2s3","x":1009,"y":4.46},{"s":"li2s3","x":1031,"y":4.85},{"s":"li2s3","x":1052,"y":5.24},{"s":"li2s3","x":1067,"y":5.32},{"s":"li2s3","x":1086,"y":5.01},{"s":"li2s3","x":1103,"y":4.73},{"s":"li2s3","x":1125,"y":4.46},{"s":"li2s3","x":1147,"y":4.22},{"s":"li2s3","x":1169,"y":4.3},{"s":"li2s3","x":1191,"y":4.57},{"s":"li2s3","x":1205,"y":4.61},{"s":"li2s3","x":1223,"y":4.53},{"s":"li2s3","x":1242,"y":4.26},{"s":"li2s3","x":1271,"y":4.12},{"s":"li2s3","x":1300,"y":4.1},{"s":"li2s3","x":1329,"y":4.46},{"s":"li2s3","x":1351,"y":5.16},{"s":"li2s3","x":1362,"y":5.87},{"s":"li2s3","x":1373,"y":5.44},{"s":"li2s3","x":1383,"y":5.64},{"s":"li2s3","x":1395,"y":6.34},{"s":"li2s3","x":1409,"y":5.91},{"s":"li2s3","x":1424,"y":5.72},{"s":"li2s3","x":1438,"y":5.44},{"s":"li2s3","x":1456,"y":5.05},{"s":"li2s3","x":1475,"y":4.61},{"s":"li2s3","x":1496,"y":4.3},{"s":"li2s3","x":1518,"y":4.14},{"s":"li2s3","x":1547,"y":4.1},{"s":"li2s3","x":1576,"y":4.14},{"s":"li2s3","x":1598,"y":4.34},{"s":"li2s3","x":1616,"y":4.53},{"s":"li2s3","x":1635,"y":4.48},{"s":"li2s3","x":1654,"y":4.49},{"s":"li2s3","x":1671,"y":4.22},{"s":"li2s3","x":1693,"y":4.06},{"s":"li2s3","x":1729,"y":4.02},{"s":"li2s3","x":2000,"y":4.02},
{"s":"li2s4","x":0,"y":5.05},{"s":"li2s4","x":19,"y":6.07},{"s":"li2s4","x":41,"y":6.31},{"s":"li2s4","x":55,"y":6.42},{"s":"li2s4","x":70,"y":6.31},{"s":"li2s4","x":87,"y":6.11},{"s":"li2s4","x":106,"y":5.83},{"s":"li2s4","x":128,"y":5.6},{"s":"li2s4","x":150,"y":5.36},{"s":"li2s4","x":172,"y":5.21},{"s":"li2s4","x":201,"y":5.09},{"s":"li2s4","x":223,"y":5.05},{"s":"li2s4","x":242,"y":5.13},{"s":"li2s4","x":266,"y":4.97},{"s":"li2s4","x":291,"y":4.83},{"s":"li2s4","x":310,"y":5.05},{"s":"li2s4","x":332,"y":5.4},{"s":"li2s4","x":346,"y":5.44},{"s":"li2s4","x":364,"y":5.28},{"s":"li2s4","x":383,"y":4.97},{"s":"li2s4","x":397,"y":5.13},{"s":"li2s4","x":412,"y":5.36},{"s":"li2s4","x":426,"y":5.01},{"s":"li2s4","x":441,"y":4.73},{"s":"li2s4","x":463,"y":4.6},{"s":"li2s4","x":492,"y":4.54},{"s":"li2s4","x":565,"y":4.54},{"s":"li2s4","x":608,"y":4.58},{"s":"li2s4","x":623,"y":4.73},{"s":"li2s4","x":635,"y":5.05},{"s":"li2s4","x":645,"y":5.3},{"s":"li2s4","x":659,"y":4.85},{"s":"li2s4","x":681,"y":4.62},{"s":"li2s4","x":725,"y":4.54},{"s":"li2s4","x":798,"y":4.54},{"s":"li2s4","x":827,"y":4.62},{"s":"li2s4","x":844,"y":5.05},{"s":"li2s4","x":853,"y":5.28},{"s":"li2s4","x":868,"y":4.97},{"s":"li2s4","x":885,"y":4.73},{"s":"li2s4","x":907,"y":4.69},{"s":"li2s4","x":926,"y":4.77},{"s":"li2s4","x":943,"y":4.97},{"s":"li2s4","x":961,"y":5.05},{"s":"li2s4","x":980,"y":4.99},{"s":"li2s4","x":999,"y":4.85},{"s":"li2s4","x":1023,"y":4.69},{"s":"li2s4","x":1045,"y":5.01},{"s":"li2s4","x":1063,"y":5.48},{"s":"li2s4","x":1077,"y":5.87},{"s":"li2s4","x":1092,"y":5.64},{"s":"li2s4","x":1111,"y":5.44},{"s":"li2s4","x":1125,"y":5.4},{"s":"li2s4","x":1147,"y":5.12},{"s":"li2s4","x":1169,"y":4.85},{"s":"li2s4","x":1191,"y":4.73},{"s":"li2s4","x":1213,"y":4.93},{"s":"li2s4","x":1227,"y":5.01},{"s":"li2s4","x":1249,"y":4.93},{"s":"li2s4","x":1271,"y":4.77},{"s":"li2s4","x":1293,"y":4.65},{"s":"li2s4","x":1314,"y":4.63},{"s":"li2s4","x":1336,"y":4.85},{"s":"li2s4","x":1358,"y":5.24},{"s":"li2s4","x":1377,"y":5.64},{"s":"li2s4","x":1395,"y":5.99},{"s":"li2s4","x":1409,"y":6.11},{"s":"li2s4","x":1424,"y":6.27},{"s":"li2s4","x":1438,"y":6.5},{"s":"li2s4","x":1450,"y":6.7},{"s":"li2s4","x":1464,"y":6.23},{"s":"li2s4","x":1482,"y":5.79},{"s":"li2s4","x":1504,"y":5.44},{"s":"li2s4","x":1525,"y":5.16},{"s":"li2s4","x":1547,"y":4.97},{"s":"li2s4","x":1569,"y":4.89},{"s":"li2s4","x":1598,"y":4.77},{"s":"li2s4","x":1627,"y":4.65},{"s":"li2s4","x":1642,"y":4.85},{"s":"li2s4","x":1656,"y":5.01},{"s":"li2s4","x":1678,"y":5.09},{"s":"li2s4","x":1693,"y":5.01},{"s":"li2s4","x":1707,"y":4.81},{"s":"li2s4","x":1722,"y":4.79},{"s":"li2s4","x":1744,"y":4.61},{"s":"li2s4","x":1773,"y":4.54},{"s":"li2s4","x":2000,"y":4.52},
{"s":"li2s5","x":0,"y":5.6},{"s":"li2s5","x":19,"y":6.78},{"s":"li2s5","x":33,"y":6.97},{"s":"li2s5","x":55,"y":7.01},{"s":"li2s5","x":70,"y":6.97},{"s":"li2s5","x":92,"y":6.62},{"s":"li2s5","x":114,"y":6.31},{"s":"li2s5","x":135,"y":5.99},{"s":"li2s5","x":157,"y":5.79},{"s":"li2s5","x":186,"y":5.68},{"s":"li2s5","x":215,"y":5.6},{"s":"li2s5","x":230,"y":5.56},{"s":"li2s5","x":252,"y":5.46},{"s":"li2s5","x":274,"y":5.68},{"s":"li2s5","x":295,"y":5.83},{"s":"li2s5","x":310,"y":5.89},{"s":"li2s5","x":325,"y":5.71},{"s":"li2s5","x":339,"y":5.56},{"s":"li2s5","x":358,"y":5.91},{"s":"li2s5","x":368,"y":5.68},{"s":"li2s5","x":390,"y":5.44},{"s":"li2s5","x":412,"y":5.52},{"s":"li2s5","x":426,"y":5.28},{"s":"li2s5","x":448,"y":5.13},{"s":"li2s5","x":470,"y":5.34},{"s":"li2s5","x":485,"y":5.13},{"s":"li2s5","x":506,"y":5.07},{"s":"li2s5","x":536,"y":5.09},{"s":"li2s5","x":557,"y":5.44},{"s":"li2s5","x":568,"y":5.71},{"s":"li2s5","x":579,"y":5.36},{"s":"li2s5","x":601,"y":5.13},{"s":"li2s5","x":623,"y":5.07},{"s":"li2s5","x":645,"y":5.2},{"s":"li2s5","x":659,"y":5.09},{"s":"li2s5","x":681,"y":5.05},{"s":"li2s5","x":718,"y":5.11},{"s":"li2s5","x":732,"y":5.6},{"s":"li2s5","x":739,"y":5.75},{"s":"li2s5","x":754,"y":5.36},{"s":"li2s5","x":776,"y":5.15},{"s":"li2s5","x":798,"y":5.17},{"s":"li2s5","x":819,"y":5.28},{"s":"li2s5","x":834,"y":5.52},{"s":"li2s5","x":846,"y":5.64},{"s":"li2s5","x":863,"y":5.32},{"s":"li2s5","x":885,"y":5.13},{"s":"li2s5","x":914,"y":5.13},{"s":"li2s5","x":943,"y":5.36},{"s":"li2s5","x":961,"y":5.75},{"s":"li2s5","x":972,"y":5.91},{"s":"li2s5","x":987,"y":5.78},{"s":"li2s5","x":1001,"y":5.48},{"s":"li2s5","x":1023,"y":5.28},{"s":"li2s5","x":1045,"y":5.4},{"s":"li2s5","x":1060,"y":5.6},{"s":"li2s5","x":1077,"y":5.87},{"s":"li2s5","x":1092,"y":5.64},{"s":"li2s5","x":1111,"y":5.4},{"s":"li2s5","x":1133,"y":5.28},{"s":"li2s5","x":1154,"y":5.16},{"s":"li2s5","x":1169,"y":5.28},{"s":"li2s5","x":1191,"y":5.64},{"s":"li2s5","x":1205,"y":6.23},{"s":"li2s5","x":1220,"y":6.62},{"s":"li2s5","x":1231,"y":6.34},{"s":"li2s5","x":1246,"y":6.5},{"s":"li2s5","x":1264,"y":6.3},{"s":"li2s5","x":1285,"y":6.15},{"s":"li2s5","x":1300,"y":5.79},{"s":"li2s5","x":1322,"y":5.44},{"s":"li2s5","x":1344,"y":5.28},{"s":"li2s5","x":1358,"y":5.44},{"s":"li2s5","x":1373,"y":5.56},{"s":"li2s5","x":1395,"y":5.68},{"s":"li2s5","x":1416,"y":5.6},{"s":"li2s5","x":1431,"y":5.72},{"s":"li2s5","x":1453,"y":5.83},{"s":"li2s5","x":1467,"y":5.64},{"s":"li2s5","x":1489,"y":5.44},{"s":"li2s5","x":1511,"y":5.24},{"s":"li2s5","x":1533,"y":5.1},{"s":"li2s5","x":1562,"y":5.24},{"s":"li2s5","x":1576,"y":5.4},{"s":"li2s5","x":1591,"y":5.44},{"s":"li2s5","x":1606,"y":5.32},{"s":"li2s5","x":1620,"y":5.48},{"s":"li2s5","x":1639,"y":5.56},{"s":"li2s5","x":1656,"y":5.64},{"s":"li2s5","x":1671,"y":5.48},{"s":"li2s5","x":1693,"y":5.32},{"s":"li2s5","x":1715,"y":5.16},{"s":"li2s5","x":1744,"y":5.07},{"s":"li2s5","x":1802,"y":5.05},{"s":"li2s5","x":1853,"y":5.07},{"s":"li2s5","x":1875,"y":5.13},{"s":"li2s5","x":1897,"y":5.2},{"s":"li2s5","x":1919,"y":5.1},{"s":"li2s5","x":1948,"y":5.03},{"s":"li2s5","x":2000,"y":5.01},
{"s":"li2s6","x":0,"y":6.0},{"s":"li2s6","x":19,"y":6.86},{"s":"li2s6","x":33,"y":7.25},{"s":"li2s6","x":48,"y":7.46},{"s":"li2s6","x":63,"y":7.37},{"s":"li2s6","x":84,"y":7.13},{"s":"li2s6","x":106,"y":6.78},{"s":"li2s6","x":128,"y":6.46},{"s":"li2s6","x":150,"y":6.27},{"s":"li2s6","x":172,"y":6.19},{"s":"li2s6","x":201,"y":6.19},{"s":"li2s6","x":223,"y":6.23},{"s":"li2s6","x":245,"y":6.11},{"s":"li2s6","x":266,"y":6.03},{"s":"li2s6","x":281,"y":5.99},{"s":"li2s6","x":303,"y":6.23},{"s":"li2s6","x":325,"y":6.46},{"s":"li2s6","x":339,"y":6.38},{"s":"li2s6","x":354,"y":6.38},{"s":"li2s6","x":368,"y":5.91},{"s":"li2s6","x":390,"y":6.07},{"s":"li2s6","x":408,"y":6.34},{"s":"li2s6","x":419,"y":6.07},{"s":"li2s6","x":441,"y":5.76},{"s":"li2s6","x":470,"y":5.6},{"s":"li2s6","x":506,"y":5.55},{"s":"li2s6","x":565,"y":5.54},{"s":"li2s6","x":601,"y":5.71},{"s":"li2s6","x":616,"y":5.83},{"s":"li2s6","x":628,"y":6.1},{"s":"li2s6","x":635,"y":6.46},{"s":"li2s6","x":649,"y":6.07},{"s":"li2s6","x":667,"y":5.68},{"s":"li2s6","x":696,"y":5.56},{"s":"li2s6","x":754,"y":5.54},{"s":"li2s6","x":790,"y":5.71},{"s":"li2s6","x":800,"y":5.87},{"s":"li2s6","x":812,"y":5.68},{"s":"li2s6","x":834,"y":6.07},{"s":"li2s6","x":846,"y":6.54},{"s":"li2s6","x":856,"y":5.83},{"s":"li2s6","x":878,"y":5.6},{"s":"li2s6","x":899,"y":5.71},{"s":"li2s6","x":921,"y":5.68},{"s":"li2s6","x":943,"y":6.07},{"s":"li2s6","x":955,"y":6.15},{"s":"li2s6","x":972,"y":5.83},{"s":"li2s6","x":990,"y":5.95},{"s":"li2s6","x":1009,"y":6.11},{"s":"li2s6","x":1023,"y":6.42},{"s":"li2s6","x":1045,"y":6.66},{"s":"li2s6","x":1067,"y":6.89},{"s":"li2s6","x":1082,"y":6.5},{"s":"li2s6","x":1096,"y":6.19},{"s":"li2s6","x":1118,"y":6.03},{"s":"li2s6","x":1140,"y":5.95},{"s":"li2s6","x":1154,"y":5.83},{"s":"li2s6","x":1176,"y":5.68},{"s":"li2s6","x":1194,"y":5.91},{"s":"li2s6","x":1208,"y":6.13},{"s":"li2s6","x":1220,"y":6.03},{"s":"li2s6","x":1237,"y":5.72},{"s":"li2s6","x":1256,"y":5.64},{"s":"li2s6","x":1278,"y":5.79},{"s":"li2s6","x":1296,"y":5.99},{"s":"li2s6","x":1314,"y":6.03},{"s":"li2s6","x":1329,"y":6.34},{"s":"li2s6","x":1344,"y":6.89},{"s":"li2s6","x":1358,"y":7.31},{"s":"li2s6","x":1373,"y":7.29},{"s":"li2s6","x":1387,"y":7.33},{"s":"li2s6","x":1399,"y":7.09},{"s":"li2s6","x":1416,"y":7.4},{"s":"li2s6","x":1427,"y":7.44},{"s":"li2s6","x":1441,"y":7.05},{"s":"li2s6","x":1456,"y":6.62},{"s":"li2s6","x":1470,"y":6.23},{"s":"li2s6","x":1489,"y":5.91},{"s":"li2s6","x":1511,"y":5.68},{"s":"li2s6","x":1533,"y":5.64},{"s":"li2s6","x":1555,"y":5.73},{"s":"li2s6","x":1569,"y":5.75},{"s":"li2s6","x":1584,"y":5.64},{"s":"li2s6","x":1606,"y":5.79},{"s":"li2s6","x":1627,"y":6.03},{"s":"li2s6","x":1645,"y":6.11},{"s":"li2s6","x":1664,"y":5.91},{"s":"li2s6","x":1683,"y":5.64},{"s":"li2s6","x":1707,"y":5.54},{"s":"li2s6","x":1744,"y":5.51},{"s":"li2s6","x":2000,"y":5.51},
{"s":"li2s7","x":0,"y":6.55},{"s":"li2s7","x":19,"y":7.25},{"s":"li2s7","x":33,"y":7.68},{"s":"li2s7","x":55,"y":7.88},{"s":"li2s7","x":73,"y":8.01},{"s":"li2s7","x":87,"y":7.88},{"s":"li2s7","x":106,"y":7.6},{"s":"li2s7","x":128,"y":7.33},{"s":"li2s7","x":150,"y":7.09},{"s":"li2s7","x":172,"y":6.9},{"s":"li2s7","x":201,"y":6.74},{"s":"li2s7","x":230,"y":6.66},{"s":"li2s7","x":259,"y":6.58},{"s":"li2s7","x":288,"y":6.56},{"s":"li2s7","x":310,"y":6.62},{"s":"li2s7","x":325,"y":6.7},{"s":"li2s7","x":339,"y":6.58},{"s":"li2s7","x":358,"y":6.42},{"s":"li2s7","x":375,"y":6.46},{"s":"li2s7","x":397,"y":6.74},{"s":"li2s7","x":412,"y":6.86},{"s":"li2s7","x":434,"y":6.78},{"s":"li2s7","x":456,"y":6.62},{"s":"li2s7","x":477,"y":6.5},{"s":"li2s7","x":492,"y":6.44},{"s":"li2s7","x":509,"y":6.58},{"s":"li2s7","x":528,"y":6.5},{"s":"li2s7","x":550,"y":6.46},{"s":"li2s7","x":565,"y":6.36},{"s":"li2s7","x":587,"y":6.27},{"s":"li2s7","x":608,"y":6.21},{"s":"li2s7","x":630,"y":6.31},{"s":"li2s7","x":645,"y":6.46},{"s":"li2s7","x":655,"y":6.19},{"s":"li2s7","x":681,"y":6.11},{"s":"li2s7","x":710,"y":6.05},{"s":"li2s7","x":754,"y":6.05},{"s":"li2s7","x":776,"y":6.15},{"s":"li2s7","x":798,"y":6.5},{"s":"li2s7","x":812,"y":6.46},{"s":"li2s7","x":824,"y":6.34},{"s":"li2s7","x":841,"y":6.54},{"s":"li2s7","x":856,"y":6.31},{"s":"li2s7","x":878,"y":6.15},{"s":"li2s7","x":914,"y":6.07},{"s":"li2s7","x":936,"y":6.15},{"s":"li2s7","x":946,"y":6.21},{"s":"li2s7","x":965,"y":6.07},{"s":"li2s7","x":987,"y":6.07},{"s":"li2s7","x":1009,"y":6.11},{"s":"li2s7","x":1031,"y":6.34},{"s":"li2s7","x":1052,"y":6.6},{"s":"li2s7","x":1067,"y":6.5},{"s":"li2s7","x":1082,"y":6.27},{"s":"li2s7","x":1103,"y":6.34},{"s":"li2s7","x":1118,"y":6.48},{"s":"li2s7","x":1133,"y":6.27},{"s":"li2s7","x":1154,"y":6.42},{"s":"li2s7","x":1169,"y":6.27},{"s":"li2s7","x":1191,"y":6.42},{"s":"li2s7","x":1213,"y":6.34},{"s":"li2s7","x":1234,"y":6.38},{"s":"li2s7","x":1249,"y":6.23},{"s":"li2s7","x":1271,"y":6.3},{"s":"li2s7","x":1293,"y":6.62},{"s":"li2s7","x":1314,"y":6.7},{"s":"li2s7","x":1336,"y":6.74},{"s":"li2s7","x":1358,"y":7.01},{"s":"li2s7","x":1380,"y":7.05},{"s":"li2s7","x":1402,"y":7.21},{"s":"li2s7","x":1416,"y":7.15},{"s":"li2s7","x":1431,"y":7.31},{"s":"li2s7","x":1445,"y":6.97},{"s":"li2s7","x":1467,"y":6.74},{"s":"li2s7","x":1489,"y":6.66},{"s":"li2s7","x":1511,"y":6.5},{"s":"li2s7","x":1533,"y":6.52},{"s":"li2s7","x":1555,"y":6.34},{"s":"li2s7","x":1576,"y":6.19},{"s":"li2s7","x":1595,"y":6.27},{"s":"li2s7","x":1613,"y":6.34},{"s":"li2s7","x":1635,"y":6.23},{"s":"li2s7","x":1656,"y":6.46},{"s":"li2s7","x":1678,"y":6.5},{"s":"li2s7","x":1700,"y":6.7},{"s":"li2s7","x":1722,"y":6.82},{"s":"li2s7","x":1744,"y":6.93},{"s":"li2s7","x":1766,"y":6.97},{"s":"li2s7","x":1787,"y":7.17},{"s":"li2s7","x":1802,"y":7.21},{"s":"li2s7","x":1817,"y":7.33},{"s":"li2s7","x":1838,"y":7.13},{"s":"li2s7","x":1860,"y":7.01},{"s":"li2s7","x":1878,"y":7.15},{"s":"li2s7","x":1897,"y":6.93},{"s":"li2s7","x":1919,"y":6.77},{"s":"li2s7","x":1940,"y":6.74},{"s":"li2s7","x":1962,"y":6.62},{"s":"li2s7","x":1984,"y":6.5},{"s":"li2s7","x":2000,"y":6.34},
{"s":"li2s8","x":0,"y":7.0},{"s":"li2s8","x":19,"y":7.84},{"s":"li2s8","x":33,"y":8.43},{"s":"li2s8","x":48,"y":8.51},{"s":"li2s8","x":63,"y":8.39},{"s":"li2s8","x":84,"y":8.11},{"s":"li2s8","x":106,"y":7.76},{"s":"li2s8","x":128,"y":7.45},{"s":"li2s8","x":143,"y":7.29},{"s":"li2s8","x":164,"y":7.25},{"s":"li2s8","x":186,"y":7.13},{"s":"li2s8","x":215,"y":7.09},{"s":"li2s8","x":237,"y":7.03},{"s":"li2s8","x":259,"y":6.95},{"s":"li2s8","x":281,"y":7.01},{"s":"li2s8","x":295,"y":7.25},{"s":"li2s8","x":310,"y":7.29},{"s":"li2s8","x":328,"y":7.35},{"s":"li2s8","x":346,"y":7.21},{"s":"li2s8","x":361,"y":7.17},{"s":"li2s8","x":375,"y":7.31},{"s":"li2s8","x":390,"y":7.05},{"s":"li2s8","x":405,"y":6.82},{"s":"li2s8","x":426,"y":6.86},{"s":"li2s8","x":448,"y":6.74},{"s":"li2s8","x":477,"y":6.62},{"s":"li2s8","x":506,"y":6.56},{"s":"li2s8","x":528,"y":6.56},{"s":"li2s8","x":547,"y":6.86},{"s":"li2s8","x":562,"y":6.62},{"s":"li2s8","x":579,"y":6.7},{"s":"li2s8","x":594,"y":6.9},{"s":"li2s8","x":608,"y":6.62},{"s":"li2s8","x":623,"y":6.62},{"s":"li2s8","x":645,"y":6.91},{"s":"li2s8","x":659,"y":6.7},{"s":"li2s8","x":678,"y":6.64},{"s":"li2s8","x":696,"y":6.88},{"s":"li2s8","x":710,"y":6.58},{"s":"li2s8","x":725,"y":6.9},{"s":"li2s8","x":739,"y":6.62},{"s":"li2s8","x":761,"y":6.58},{"s":"li2s8","x":776,"y":6.86},{"s":"li2s8","x":790,"y":6.7},{"s":"li2s8","x":805,"y":6.64},{"s":"li2s8","x":827,"y":6.72},{"s":"li2s8","x":849,"y":6.82},{"s":"li2s8","x":863,"y":6.7},{"s":"li2s8","x":878,"y":7.17},{"s":"li2s8","x":892,"y":7.05},{"s":"li2s8","x":914,"y":6.9},{"s":"li2s8","x":936,"y":6.82},{"s":"li2s8","x":958,"y":7.29},{"s":"li2s8","x":972,"y":7.27},{"s":"li2s8","x":994,"y":7.0},{"s":"li2s8","x":1010,"y":6.95},{"s":"li2s8","x":1023,"y":7.05},{"s":"li2s8","x":1045,"y":7.27},{"s":"li2s8","x":1063,"y":6.93},{"s":"li2s8","x":1082,"y":7.17},{"s":"li2s8","x":1103,"y":7.01},{"s":"li2s8","x":1125,"y":7.29},{"s":"li2s8","x":1147,"y":6.85},{"s":"li2s8","x":1176,"y":7.13},{"s":"li2s8","x":1202,"y":6.91},{"s":"li2s8","x":1227,"y":7.35},{"s":"li2s8","x":1249,"y":7.44},{"s":"li2s8","x":1271,"y":7.72},{"s":"li2s8","x":1290,"y":7.35},{"s":"li2s8","x":1307,"y":7.33},{"s":"li2s8","x":1325,"y":7.56},{"s":"li2s8","x":1344,"y":7.25},{"s":"li2s8","x":1365,"y":7.21},{"s":"li2s8","x":1387,"y":7.19},{"s":"li2s8","x":1409,"y":7.17},{"s":"li2s8","x":1421,"y":7.62},{"s":"li2s8","x":1438,"y":7.29},{"s":"li2s8","x":1460,"y":7.13},{"s":"li2s8","x":1479,"y":7.35},{"s":"li2s8","x":1496,"y":7.13},{"s":"li2s8","x":1518,"y":7.05},{"s":"li2s8","x":1540,"y":6.93},{"s":"li2s8","x":1562,"y":6.7},{"s":"li2s8","x":1584,"y":6.6},{"s":"li2s8","x":1613,"y":6.57},{"s":"li2s8","x":1639,"y":6.68},{"s":"li2s8","x":1656,"y":6.74},{"s":"li2s8","x":1678,"y":6.6},{"s":"li2s8","x":1700,"y":6.7},{"s":"li2s8","x":1722,"y":6.76},{"s":"li2s8","x":1744,"y":6.54},{"s":"li2s8","x":1780,"y":6.51},{"s":"li2s8","x":2000,"y":6.51}
],
"labels":[
{"s":"li2s8","t":"li₂s₈","y":7.23},{"s":"li2s7","t":"li₂s₇","y":6.64},{"s":"li2s6","t":"li₂s₆","y":6.04},{"s":"li2s5","t":"li₂s₅","y":5.48},{"s":"li2s4","t":"li₂s₄","y":4.91},{"s":"li2s3","t":"li₂s₃","y":4.42},{"s":"li2s2","t":"li₂s₂","y":3.87},{"s":"bulk","t":"bulk","y":2.95},{"s":"bulk","t":"dmf","y":2.36},{"s":"Li2S","t":"Li₂S","y":0.9},{"s":"S8","t":"s₈","y":-0.12}
],
"vlines":[{"x":230},{"x":500}]
},
"hconcat":[
{
"width":459,"height":763,
"layer":[
{"data":{"name":"vlines"},"mark":{"type":"rule","color":"black","strokeWidth":2,"strokeDash":[13,14]},"encoding":{"x":{"field":"x","type":"quantitative","scale":{"domain":[0,2000],"nice":false}}}},
{"data":{"name":"common"},"mark":{"type":"line","strokeWidth":2},
 "encoding":{
 "x":{"field":"x","type":"quantitative","scale":{"domain":[0,2000],"nice":false},"axis":{"title":"frequency υ [cm⁻¹]","titleX":244,"values":[0,500,1000,1500,2000],"format":"d","grid":false,"domainColor":"black","domainWidth":2,"tickColor":"black","tickWidth":2,"tickSize":8,"labelFontSize":21,"labelColor":"black","labelPadding":18,"labelFlush":false,"titleFontSize":36,"titleFontWeight":"normal","titleColor":"black","titlePadding":12}},
 "y":{"field":"y","type":"quantitative","scale":{"domain":[0,9],"nice":false},"axis":{"title":"v-DoS [arb. units]","titleY":360,"values":[0,1,2,3,4,5,6,7,8,9],"format":"d","grid":false,"domainColor":"black","domainWidth":2,"tickColor":"black","tickWidth":2,"tickSize":8,"labelFontSize":21,"labelColor":"black","labelPadding":12,"labelFlush":false,"titleFontSize":35,"titleFontWeight":"normal","titleColor":"black","titlePadding":24}},
 "color":{"field":"s","type":"nominal","legend":null,"scale":{"domain":["li2s8","li2s7","li2s6","li2s5","li2s4","li2s3","li2s2","bulk","Li2S","S8"],"range":["#009E73","#9400D3","#000000","#E8201A","#0072B2","#F0E442","#E69F00","#56B4E9","#009E73","#9400D3"]}}}},
{"data":{"name":"dian"},"mark":{"type":"line","strokeWidth":2},
 "encoding":{"x":{"field":"x","type":"quantitative"},"y":{"field":"y","type":"quantitative"},
 "color":{"field":"s","type":"nominal","legend":null}}},
{"data":{"name":"labels"},"mark":{"type":"text","align":"left","baseline":"alphabetic","dx":12,"fontSize":35},
 "encoding":{"x":{"datum":2000},"y":{"field":"y","type":"quantitative"},"text":{"field":"t"},"color":{"field":"s","type":"nominal","legend":null}}},
{"data":{"values":[{"t":"dianions"}]},"mark":{"type":"text","align":"center","baseline":"alphabetic","dx":12,"dy":-2,"fontSize":36,"color":"black"},
 "encoding":{"x":{"datum":1000},"y":{"datum":9},"text":{"field":"t"}}}
]
},
{
"width":459,"height":763,
"layer":[
{"data":{"name":"vlines"},"mark":{"type":"rule","color":"black","strokeWidth":2,"strokeDash":[13,14]},"encoding":{"x":{"field":"x","type":"quantitative","scale":{"domain":[0,2000],"nice":false}}}},
{"data":{"name":"common"},"mark":{"type":"line","strokeWidth":2},
 "encoding":{
 "x":{"field":"x","type":"quantitative","scale":{"domain":[0,2000],"nice":false},"axis":{"title":"frequency υ [cm⁻¹]","titleX":250,"values":[0,500,1000,1500,2000],"format":"d","grid":false,"domainColor":"black","domainWidth":2,"tickColor":"black","tickWidth":2,"tickSize":8,"labelFontSize":21,"labelColor":"black","labelPadding":18,"labelFlush":false,"titleFontSize":36,"titleFontWeight":"normal","titleColor":"black","titlePadding":12}},
 "y":{"field":"y","type":"quantitative","scale":{"domain":[0,9],"nice":false},"axis":{"title":null,"values":[0,1,2,3,4,5,6,7,8,9],"format":"d","grid":false,"domainColor":"black","domainWidth":2,"tickColor":"black","tickWidth":2,"tickSize":8,"labelFontSize":21,"labelColor":"black","labelPadding":12,"labelFlush":false}},
 "color":{"field":"s","type":"nominal","legend":null,"scale":{"domain":["li2s8","li2s7","li2s6","li2s5","li2s4","li2s3","li2s2","bulk","Li2S","S8"],"range":["#009E73","#9400D3","#000000","#E8201A","#0072B2","#F0E442","#E69F00","#56B4E9","#009E73","#9400D3"]}}}},
{"data":{"name":"rad"},"mark":{"type":"line","strokeWidth":2},
 "encoding":{"x":{"field":"x","type":"quantitative"},"y":{"field":"y","type":"quantitative"},
 "color":{"field":"s","type":"nominal","legend":null}}},
{"data":{"values":[{"t":"radicals"}]},"mark":{"type":"text","align":"center","baseline":"alphabetic","dx":42,"dy":-2,"fontSize":36,"color":"black"},
 "encoding":{"x":{"datum":1000},"y":{"datum":9},"text":{"field":"t"}}}
]
}
]
}
